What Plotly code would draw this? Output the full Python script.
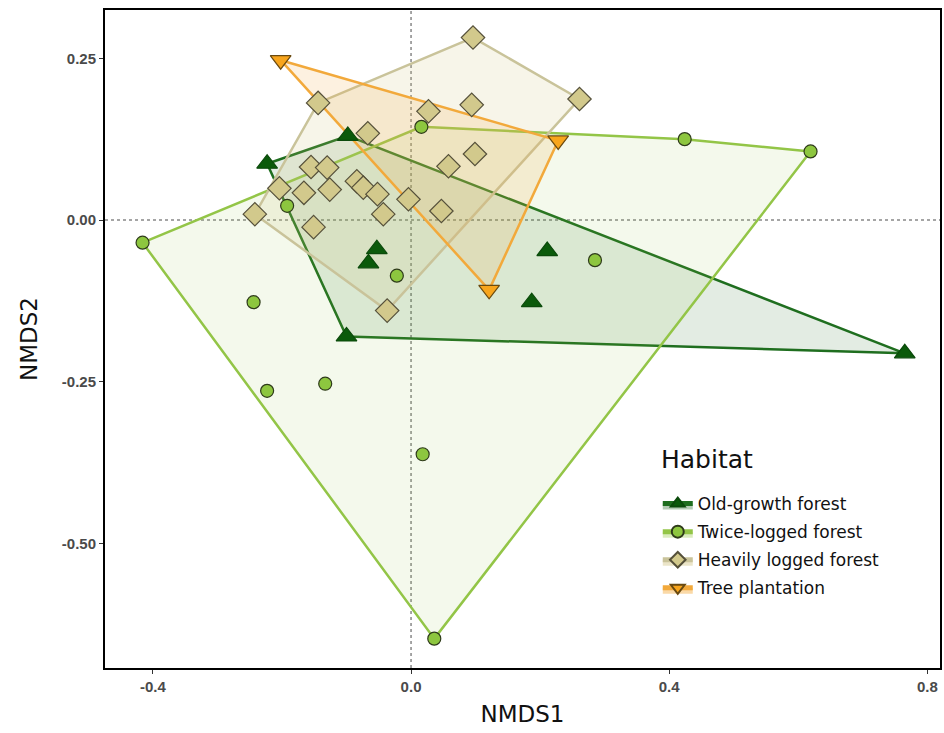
import plotly.graph_objects as go

# ---- data ----
habitats = ["Old-growth forest", "Twice-logged forest", "Heavily logged forest", "Tree plantation"]

og_x = [-0.098, -0.223, -0.053, -0.066, -0.100, 0.211, 0.187, 0.765]
og_y = [0.130, 0.087, -0.045, -0.067, -0.180, -0.048, -0.127, -0.206]

tl_x = [0.016, 0.424, 0.619, -0.192, -0.416, -0.244, -0.223, -0.133, -0.022, 0.285, 0.018, 0.036]
tl_y = [0.144, 0.125, 0.106, 0.022, -0.035, -0.127, -0.264, -0.253, -0.086, -0.062, -0.362, -0.647]

hl_x = [-0.144, -0.067, -0.155, -0.130, -0.204, -0.166, -0.126, -0.084, -0.074, -0.052, -0.043,
        -0.242, -0.151, 0.096, 0.261, 0.027, 0.094, 0.099, 0.058, -0.004, 0.047, -0.037]
hl_y = [0.181, 0.134, 0.082, 0.081, 0.049, 0.042, 0.047, 0.060, 0.050, 0.040, 0.009,
        0.009, -0.011, 0.282, 0.187, 0.168, 0.178, 0.102, 0.083, 0.032, 0.014, -0.140]

tp_x = [-0.202, 0.228, 0.121]
tp_y = [0.247, 0.123, -0.108]

stress_text = "Stress value = 0.1569"
legend_title = "Habitat"

x_ticks = [-0.4, 0.0, 0.4, 0.8]
x_tick_labels = ["-0.4", "0.0", "0.4", "0.8"]
y_ticks = [0.25, 0.0, -0.25, -0.5]
y_tick_labels = ["0.25", "0.00", "-0.25", "-0.50"]


def convex_hull(xs, ys):
    pts = sorted(set(zip(xs, ys)))
    if len(pts) <= 2:
        return pts

    def cross(o, a, b):
        return (a[0] - o[0]) * (b[1] - o[1]) - (a[1] - o[1]) * (b[0] - o[0])

    lower = []
    for p in pts:
        while len(lower) >= 2 and cross(lower[-2], lower[-1], p) <= 0:
            lower.pop()
        lower.append(p)
    upper = []
    for p in reversed(pts):
        while len(upper) >= 2 and cross(upper[-2], upper[-1], p) <= 0:
            upper.pop()
        upper.append(p)
    return lower[:-1] + upper[:-1]


styles = [
    dict(x=og_x, y=og_y, line="#1f6e1f", fill="rgba(40,105,40,0.13)", key="rgba(40,105,40,0.35)",
         mfill="#0b5a0b", mline="#0b4a0b", symbol="triangle-up", size=18),
    dict(x=tl_x, y=tl_y, line="#93c547", fill="rgba(150,200,70,0.10)", key="rgba(150,200,70,0.35)",
         mfill="#8dc63f", mline="#2e3a1a", symbol="circle", size=13),
    dict(x=hl_x, y=hl_y, line="#c9c39a", fill="rgba(205,190,120,0.16)", key="rgba(205,190,120,0.40)",
         mfill="#d2c98c", mline="#55503a", symbol="diamond", size=18),
    dict(x=tp_x, y=tp_y, line="#f2a93b", fill="rgba(245,170,60,0.16)", key="rgba(245,170,60,0.45)",
         mfill="#f8a51c", mline="#6a4a10", symbol="triangle-down", size=18),
]

fig = go.Figure()

# hull polygons
for name, s in zip(habitats, styles):
    hull = convex_hull(s["x"], s["y"])
    hx = [p[0] for p in hull] + [hull[0][0]]
    hy = [p[1] for p in hull] + [hull[0][1]]
    fig.add_trace(go.Scatter(x=hx, y=hy, mode="lines", fill="toself", fillcolor=s["fill"],
                             line=dict(color=s["line"], width=2.5), hoverinfo="skip",
                             showlegend=False, legendgroup=name))

# points
for name, s in zip(habitats, styles):
    fig.add_trace(go.Scatter(x=s["x"], y=s["y"], mode="markers", name=name, legendgroup=name,
                             marker=dict(symbol=s["symbol"], size=s["size"], color=s["mfill"],
                                         line=dict(color=s["mline"], width=1.2)),
                             showlegend=False))

# legend keys (legend only)
for name, s in zip(habitats, styles):
    fig.add_trace(go.Scatter(x=[None], y=[None], mode="lines+markers", name=name,
                             fill="toself", fillcolor=s["key"],
                             line=dict(color=s["line"], width=3),
                             marker=dict(symbol=s["symbol"], size=15, color=s["mfill"],
                                         line=dict(color=s["mline"], width=1.2)),
                             legendgroup=name, showlegend=True))

fig.add_annotation(x=0.98, y=0.275, xref="x", yref="y", text=stress_text, showarrow=False,
                   xanchor="right", yanchor="middle",
                   font=dict(family="DejaVu Sans", size=16, color="#111111"))

fig.add_annotation(x=0.664, y=(668 - 460) / 658, xref="paper", yref="paper", text=legend_title,
                   showarrow=False, xanchor="left", yanchor="middle",
                   font=dict(family="DejaVu Sans", size=25, color="#111111"))

fig.add_shape(type="line", x0=0, x1=0, y0=0, y1=1, xref="x", yref="paper",
              line=dict(color="#888888", width=1.5, dash="dot"), layer="below")
fig.add_shape(type="line", x0=0, x1=1, y0=0, y1=0, xref="paper", yref="y",
              line=dict(color="#888888", width=1.5, dash="dot"), layer="below")

fig.update_layout(
    width=944, height=733,
    margin=dict(l=105, r=2, t=10, b=65),
    paper_bgcolor="white", plot_bgcolor="white",
    showlegend=True,
    legend=dict(x=0.662, y=(668 - 486) / 658, xanchor="left", yanchor="top",
                font=dict(family="DejaVu Sans", size=17, color="#111111"),
                bgcolor="rgba(0,0,0,0)", tracegroupgap=3, itemsizing="constant"),
    xaxis=dict(range=[-0.4742, 0.8196], tickvals=x_ticks, ticktext=x_tick_labels,
               showgrid=False, zeroline=False, showline=True, linecolor="black", linewidth=2,
               mirror=True, ticks="outside", ticklen=4, tickcolor="#333333",
               tickfont=dict(family="Liberation Sans", size=15, color="#4a4a4a", weight="bold"),
               title=dict(text="NMDS1", font=dict(family="DejaVu Sans", size=23, color="#111111"),
                          standoff=12)),
    yaxis=dict(range=[-0.6924, 0.3246], tickvals=y_ticks, ticktext=y_tick_labels,
               showgrid=False, zeroline=False, showline=True, linecolor="black", linewidth=2,
               mirror=True, ticks="outside", ticklen=4, tickcolor="#333333",
               tickfont=dict(family="Liberation Sans", size=15, color="#4a4a4a", weight="bold"),
               title=dict(text="NMDS2", font=dict(family="DejaVu Sans", size=23, color="#111111"),
                          standoff=18)),
)

fig.write_html("out.html")
